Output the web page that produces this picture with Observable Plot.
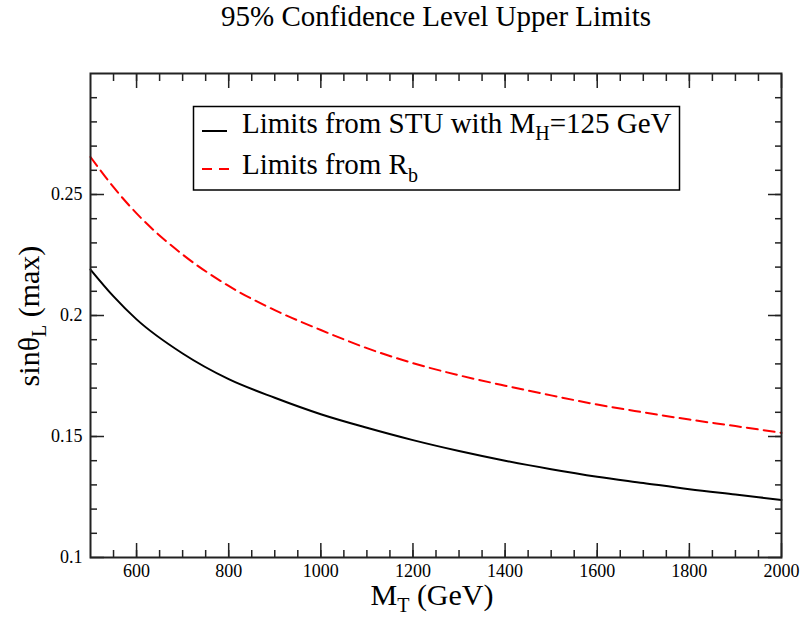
<!DOCTYPE html>
<html>
<head>
<meta charset="utf-8">
<script src="https://cdn.jsdelivr.net/npm/d3@7"></script>
<script src="https://cdn.jsdelivr.net/npm/@observablehq/plot@0.6"></script>
<style>
  html, body { margin: 0; padding: 0; background: #fff; }
</style>
</head>
<body>
<div id="chart"></div>
<script>
// ---- data ----
const massT = [500, 550, 600, 700, 800, 900, 1000, 1100, 1200, 1300, 1400, 1500, 1600, 1700, 1800, 1900, 2000];
const stuLimit = [0.2190, 0.2079, 0.1984, 0.1843, 0.1737, 0.1660, 0.1592, 0.1536, 0.1485, 0.1440, 0.1400, 0.1365, 0.1334, 0.1308, 0.1282, 0.1260, 0.1238];
const rbLimit  = [0.2655, 0.2530, 0.2422, 0.2252, 0.2122, 0.2022, 0.1940, 0.1865, 0.1803, 0.1753, 0.1710, 0.1670, 0.1632, 0.1600, 0.1570, 0.1543, 0.1515];

const xTicks = [600, 800, 1000, 1200, 1400, 1600, 1800, 2000];
const yTicks = [0.1, 0.15, 0.2, 0.25];
const xMinor = d3.range(550, 2000, 50);
const yMinor = d3.range(11, 30).map(d => d / 100);

const titleText = "95% Confidence Level Upper Limits";
const legendLabels = ["Limits from STU with M", "Limits from R"];

const stuData = massT.map((m, i) => ({m, v: stuLimit[i]}));
const rbData = massT.map((m, i) => ({m, v: rbLimit[i]}));

const tickColor = "#222";
const noText = () => "";
const tickOpts = (anchor, size) => ({anchor, tickSize: size, tickFormat: noText, label: null, stroke: tickColor, strokeWidth: 1.5});

const plot = Plot.plot({
  width: 803,
  height: 618,
  marginLeft: 90,
  marginRight: 22,
  marginTop: 73,
  marginBottom: 61,
  style: {fontFamily: "'Liberation Serif', 'Times New Roman', serif", fontSize: "18px", background: "#fff", color: "#000"},
  x: {domain: [500, 2000], axis: null, label: null},
  y: {domain: [0.1, 0.3], axis: null, label: null},
  marks: [
    // minor ticks (inward)
    Plot.axisX(xMinor, tickOpts("bottom", -7)),
    Plot.axisX(xMinor, tickOpts("top", -7)),
    Plot.axisY(yMinor, tickOpts("left", -7)),
    Plot.axisY(yMinor, tickOpts("right", -7)),
    // major ticks (inward)
    Plot.axisX(xTicks, tickOpts("bottom", -14)),
    Plot.axisX(xTicks, tickOpts("top", -14)),
    Plot.axisY(yTicks, tickOpts("left", -14)),
    Plot.axisY(yTicks, tickOpts("right", -14)),
    // tick labels
    Plot.axisX(xTicks, {anchor: "bottom", tickSize: 0, tickPadding: 7, tickFormat: d => String(d), fill: "#000", fontSize: 18, label: null}),
    Plot.axisY(yTicks, {anchor: "left", tickSize: 0, tickPadding: 8, tickFormat: d => String(d), fill: "#000", fontSize: 18, label: null}),
    // curves
    Plot.line(rbData, {x: "m", y: "v", stroke: "#ff0000", strokeWidth: 2, strokeDasharray: "11,6", curve: "monotone-x"}),
    Plot.line(stuData, {x: "m", y: "v", stroke: "#000", strokeWidth: 2, curve: "monotone-x"}),
    Plot.frame({stroke: "#222", strokeWidth: 2})
  ]
});

document.getElementById("chart").appendChild(plot);

const svg = d3.select(plot);
const font = "'Liberation Serif', 'Times New Roman', serif";

// title
svg.append("text")
  .attr("x", 436).attr("y", 26)
  .attr("text-anchor", "middle")
  .attr("font-family", font).attr("font-size", 29)
  .attr("fill", "#000")
  .text(titleText);

// x label: M_T (GeV)
const xl = svg.append("text")
  .attr("x", 432).attr("y", 605)
  .attr("text-anchor", "middle")
  .attr("font-family", font).attr("font-size", 30)
  .attr("fill", "#000");
xl.append("tspan").text("M");
xl.append("tspan").attr("dy", 7).attr("font-size", 20).text("T");
xl.append("tspan").attr("dy", -7).text(" (GeV)");

// y label: sinθ_L (max)
const yl = svg.append("text")
  .attr("transform", "translate(39,316) rotate(-90)")
  .attr("text-anchor", "middle")
  .attr("font-family", font).attr("font-size", 30)
  .attr("fill", "#000");
yl.append("tspan").text("sinθ");
yl.append("tspan").attr("dy", 7).attr("font-size", 20).text("L");
yl.append("tspan").attr("dy", -7).text(" (max)");

// legend box
const lg = svg.append("g").attr("text-anchor", "start");
lg.append("rect")
  .attr("x", 193.5).attr("y", 106.5).attr("width", 486).attr("height", 83.5)
  .attr("fill", "#fff").attr("stroke", "#000").attr("stroke-width", 1.5);
lg.append("line")
  .attr("x1", 202).attr("x2", 227).attr("y1", 131).attr("y2", 131)
  .attr("stroke", "#000").attr("stroke-width", 2);
lg.append("line")
  .attr("x1", 202).attr("x2", 229).attr("y1", 169).attr("y2", 169)
  .attr("stroke", "#ff0000").attr("stroke-width", 2).attr("stroke-dasharray", "10,7");
const t1 = lg.append("text")
  .attr("x", 242).attr("y", 133).attr("text-anchor", "start")
  .attr("font-family", font).attr("font-size", 29).attr("fill", "#000");
t1.append("tspan").text(legendLabels[0]);
t1.append("tspan").attr("dy", 7).attr("font-size", 20).text("H");
t1.append("tspan").attr("dy", -7).text("=125 GeV");
const t2 = lg.append("text")
  .attr("x", 242).attr("y", 174).attr("text-anchor", "start")
  .attr("font-family", font).attr("font-size", 29).attr("fill", "#000");
t2.append("tspan").text(legendLabels[1]);
t2.append("tspan").attr("dy", 8).attr("font-size", 20).text("b");
</script>
</body>
</html>
